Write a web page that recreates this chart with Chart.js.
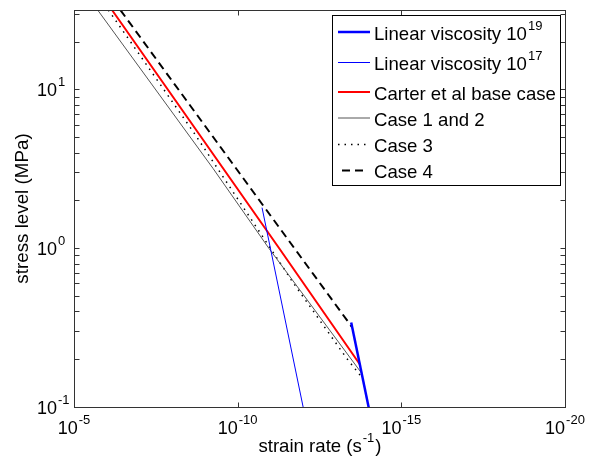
<!DOCTYPE html>
<html>
<head>
<meta charset="utf-8">
<script src="https://cdn.jsdelivr.net/npm/chart.js@4.4.0/dist/chart.umd.min.js"></script>
<style>
  html, body { margin: 0; padding: 0; background: #fff; }
  #wrap { width: 592px; height: 464px; }
</style>
</head>
<body>
<div id="wrap"><canvas id="chart" width="592" height="464"></canvas></div>
<script>
// values (strain rate in 1/s, stress in MPa)
const strainVisc19 = [3.4e-14, 9e-15]
const stressVisc19 = [0.34, 0.09]
const strainVisc17 = [1.8e-11, 9e-13]
const stressVisc17 = [1.8, 0.09]
const strainCarter = [6.9e-7, 5.4e-12, 1.86e-14]
const stressCarter = [31.6, 1.0, 0.186]
const strainCase12 = [1.89e-6, 5.66e-10, 1.12e-11, 1.66e-14]
const stressCase12 = [31.6, 3.18, 1.0, 0.164]
const strainCase3 = [8.9e-7, 2.14e-9, 2.09e-12, 4.79e-14, 1.51e-14]
const stressCase3 = [31.6, 5.31, 0.613, 0.204, 0.151]
const strainCase4 = [3.82e-7, 3.31e-14]
const stressCase4 = [31.6, 0.321]

const xTicks = [1e-5, 1e-10, 1e-15, 1e-20]
const xTickExps = ["-5", "-10", "-15", "-20"]
const yTicks = [0.1, 1, 10]
const yTickExps = ["-1", "0", "1"]

const legendLabels = [
  ["Linear viscosity 10", "19"],
  ["Linear viscosity 10", "17"],
  ["Carter et al base case", ""],
  ["Case 1 and 2", ""],
  ["Case 3", ""],
  ["Case 4", ""]
]

const pairs = (xs, ys) => xs.map((x, i) => ({ x: x, y: ys[i] }))
const font = size => `${size}px "Liberation Sans", Arial, Helvetica, sans-serif`
const EXP_SIZE = 13

const drawPower = (ctx, base, exp, left, y, size = 18) => {
  ctx.textAlign = "left"
  ctx.textBaseline = "alphabetic"
  ctx.font = font(size)
  const bw = ctx.measureText(base).width
  ctx.fillText(base, left, y)
  if (exp) {
    ctx.font = font(EXP_SIZE)
    ctx.fillText(exp, left + bw + 1, y - 10)
  }
}

const powerWidth = (ctx, base, exp, size = 18) => {
  ctx.font = font(size)
  const bw = ctx.measureText(base).width
  ctx.font = font(EXP_SIZE)
  return { base: bw, total: bw + 1 + (exp ? ctx.measureText(exp).width : 0) }
}

const axesPlugin = {
  id: "matlabAxes",
  afterDraw(chart) {
    const ctx = chart.ctx
    const area = chart.chartArea
    const xs = chart.scales.x
    const ys = chart.scales.y
    const left = Math.round(area.left) + 0.5
    const right = Math.round(area.right) + 0.5
    const top = Math.round(area.top) + 0.5
    const bottom = Math.round(area.bottom) + 0.5

    ctx.save()
    ctx.strokeStyle = "#333"
    ctx.lineWidth = 1
    ctx.strokeRect(left, top, right - left, bottom - top)

    ctx.beginPath()
    for (let d = -1; d <= 1; d++) {
      for (let k = 1; k <= 9; k++) {
        const v = k * Math.pow(10, d)
        if (v < ys.min || v > ys.max) continue
        const py = Math.round(ys.getPixelForValue(v)) + 0.5
        ctx.moveTo(left, py); ctx.lineTo(left + 5, py)
        ctx.moveTo(right, py); ctx.lineTo(right - 5, py)
      }
    }
    xTicks.forEach(v => {
      const px = Math.round(xs.getPixelForValue(v)) + 0.5
      ctx.moveTo(px, bottom); ctx.lineTo(px, bottom - 5)
      ctx.moveTo(px, top); ctx.lineTo(px, top + 5)
    })
    ctx.stroke()

    ctx.fillStyle = "#000"
    xTicks.forEach((v, i) => {
      const w = powerWidth(ctx, "10", xTickExps[i])
      drawPower(ctx, "10", xTickExps[i], xs.getPixelForValue(v) - w.total / 2, bottom + 26)
    })
    yTicks.forEach((v, i) => {
      const w = powerWidth(ctx, "10", yTickExps[i])
      drawPower(ctx, "10", yTickExps[i], area.left - 17 - w.base, ys.getPixelForValue(v) + 6.5)
    })

    // axis titles
    const tw = powerWidth(ctx, "strain rate (s", "-1", 18.6)
    ctx.font = font(18.6)
    const closeW = ctx.measureText(")").width
    const tx = (area.left + area.right) / 2 - (tw.total + closeW) / 2
    drawPower(ctx, "strain rate (s", "-1", tx, 452, 18.6)
    ctx.font = font(18.6)
    ctx.fillText(")", tx + tw.total + 1, 452)

    ctx.save()
    ctx.translate(28, (area.top + area.bottom) / 2)
    ctx.rotate(-Math.PI / 2)
    ctx.font = font(18.8)
    ctx.textAlign = "center"
    ctx.textBaseline = "alphabetic"
    ctx.fillText("stress level (MPa)", 0, 0)
    ctx.restore()

    // legend box
    const box = { x: 332.5, y: 15.5, w: 228, h: 170 }
    const rows = [39.5, 70, 99.5, 125.5, 152, 178]
    ctx.fillStyle = "#fff"
    ctx.fillRect(box.x, box.y, box.w, box.h)
    ctx.strokeStyle = "#000"
    ctx.strokeRect(box.x, box.y, box.w, box.h)
    chart.data.datasets.forEach((ds, i) => {
      const ly = rows[i] - 7.5
      const dashed = ds.borderDash && ds.borderDash[0] > 4
      ctx.beginPath()
      ctx.strokeStyle = ds.borderColor
      ctx.lineWidth = ds.borderWidth
      ctx.setLineDash(ds.borderDash || [])
      ctx.moveTo(dashed ? 342 : 338, ly)
      ctx.lineTo(dashed ? 367 : 370, ly)
      ctx.stroke()
      ctx.setLineDash([])
      ctx.fillStyle = "#000"
      drawPower(ctx, legendLabels[i][0], legendLabels[i][1], 374, rows[i], 18.6)
    })
    ctx.restore()
  }
}

const line = (data, color, width, dash) => ({
  data: data,
  showLine: true,
  borderColor: color,
  borderWidth: width,
  borderDash: dash,
  borderCapStyle: "butt",
  pointRadius: 0,
  tension: 0,
  clip: 0
})

new Chart(document.getElementById("chart"), {
  type: "scatter",
  data: {
    datasets: [
      line(pairs(strainVisc19, stressVisc19), "#0000ff", 2.5),
      line(pairs(strainVisc17, stressVisc17), "#0000ff", 1),
      line(pairs(strainCarter, stressCarter), "#ff0000", 2),
      line(pairs(strainCase12, stressCase12), "#555555", 1),
      line(pairs(strainCase3, stressCase3), "#000000", 1.5, [1.5, 5]),
      line(pairs(strainCase4, stressCase4), "#000000", 2, [8, 5])
    ]
  },
  options: {
    responsive: false,
    animation: false,
    layout: { padding: { left: 74, right: 27, top: 10, bottom: 57 } },
    plugins: { legend: { display: false }, tooltip: { enabled: false } },
    scales: {
      x: { type: "logarithmic", reverse: true, min: 1e-20, max: 1e-5, display: false },
      y: { type: "logarithmic", min: 0.1, max: Math.pow(10, 1.5), display: false }
    }
  },
  plugins: [axesPlugin]
})
</script>
</body>
</html>
